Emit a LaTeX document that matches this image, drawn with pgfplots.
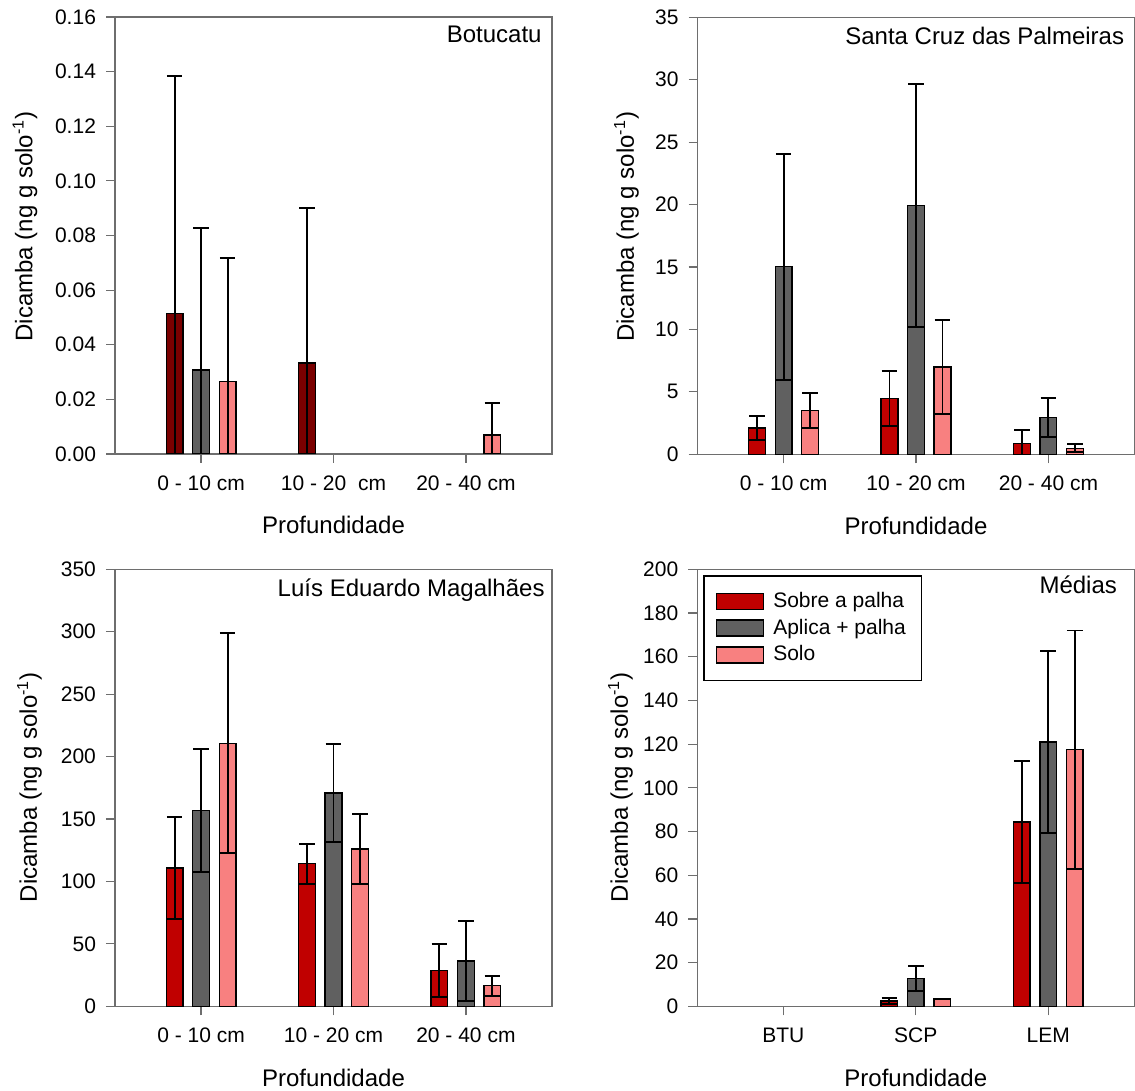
\documentclass[border=0pt]{standalone}
\usepackage{fontspec}
\setmainfont{Liberation Sans}
\usepackage{pgfplots}
\pgfplotsset{compat=1.18}
\definecolor{maroonc}{RGB}{122,0,0}
\definecolor{bred}{RGB}{192,0,0}
\definecolor{bgray}{RGB}{96,96,96}
\definecolor{bpink}{RGB}{248,128,128}
\definecolor{axgray}{RGB}{110,110,110}
\pgfplotsset{
  panel/.style={
    width=218.5pt, height=218.5pt, scale only axis,
    anchor=north west,
    xmin=-0.65, xmax=2.65, ymin=0, enlargelimits=false,
    xtick={0,1,2},
    axis line style={draw=axgray, line width=0.6pt},
    every tick/.style={draw=axgray, line width=0.6pt},
    tick align=outside, major tick length=4.5pt,
    xtick pos=bottom, ytick pos=left,
    scaled y ticks=false,
    /pgf/number format/assume math mode=true,
    tick label style={font=\fontsize{10.5}{12}\selectfont},
    xticklabel style={anchor=base, yshift=-13.5pt},
    yticklabel style={xshift=-1.5pt},
    label style={font=\fontsize{12}{14}\selectfont},
    xlabel={Profundidade},
    xlabel style={at={(axis description cs:0.5,0)}, anchor=base, yshift=-40pt},
    ylabel={Dicamba (ng g solo\textsuperscript{-1})},
    ylabel style={anchor=center},
  },
  mybar/.style={ybar, bar width=0.126, draw=black, line width=0.7pt,
    error bars/y dir=both, error bars/y explicit,
    error bars/error bar style={line width=0.95pt, black},
    error bars/error mark options={black, line width=0.95pt, mark size=3.9pt, rotate=90},
  },
  legbar/.style={legend image code/.code={\draw[##1, draw=black, line width=0.7pt] (0pt,-4pt) rectangle (23.3pt,4pt);}},
}
\begin{document}
\begin{tikzpicture}
\path[use as bounding box] (0,0) rectangle (567.5pt,-545.5pt);
% Panel 1: Botucatu
\begin{axis}[panel, at={(57.5pt,-8.5pt)},
  ymax=0.16, ytick={0,0.02,...,0.16},
  yticklabel style={/pgf/number format/.cd, fixed, fixed zerofill, precision=2},
  xticklabels={0 - 10 cm, 10 - 20~ cm, 20 - 40 cm},
  ylabel style={at={(axis description cs:-0.206,0.5206)}}]
\addplot[mybar, fill=maroonc] table[x=x,y=y,y error=e,row sep=\\] {x y e\\ -0.2 0.0514 0.087\\ 0.8 0.0333 0.0568\\};
\addplot[mybar, fill=bgray] table[x=x,y=y,y error=e,row sep=\\] {x y e\\ 0 0.0308 0.0521\\};
\addplot[mybar, fill=bpink] table[x=x,y=y,y error=e,row sep=\\] {x y e\\ 0.2 0.0266 0.045\\ 2.2 0.0070 0.0117\\};
\node[anchor=base east, inner sep=0pt, font=\fontsize{12}{14}\selectfont] at (rel axis cs:1,1) [xshift=-5pt, yshift=-13pt] {Botucatu};
\end{axis}
% Panel 2: Santa Cruz das Palmeiras
\begin{axis}[panel, at={(348.75pt,-8.65pt)},
  ymax=35, ytick={0,5,...,35},
  xticklabels={0 - 10 cm, 10 - 20 cm, 20 - 40 cm},
  ylabel style={at={(axis description cs:-0.1625,0.5206)}}]
\addplot[mybar, fill=bred] table[x=x,y=y,y error=e,row sep=\\] {x y e\\ -0.2 2.11 0.96\\ 0.8 4.48 2.22\\ 1.8 0.85 1.10\\};
\addplot[mybar, fill=bgray] table[x=x,y=y,y error=e,row sep=\\] {x y e\\ 0 15.03 9.05\\ 1 19.91 9.72\\ 2 2.96 1.58\\};
\addplot[mybar, fill=bpink] table[x=x,y=y,y error=e,row sep=\\] {x y e\\ 0.2 3.50 1.39\\ 1.2 6.99 3.77\\ 2.2 0.48 0.32\\};
\node[anchor=base east, inner sep=0pt, font=\fontsize{12}{14}\selectfont] at (rel axis cs:1,1) [xshift=-5pt, yshift=-13.5pt] {Santa Cruz das Palmeiras};
\end{axis}
% Panel 3: Luis Eduardo Magalhaes
\begin{axis}[panel, at={(57.5pt,-284.65pt)},
  ymax=350, ytick={0,50,...,350},
  xticklabels={0 - 10 cm, 10 - 20 cm, 20 - 40 cm},
  ylabel style={at={(axis description cs:-0.1957,0.5016)}}]
\addplot[mybar, fill=bred] table[x=x,y=y,y error=e,row sep=\\] {x y e\\ -0.2 110.7 40.9\\ 0.8 114.2 16.0\\ 1.8 28.6 21.4\\};
\addplot[mybar, fill=bgray] table[x=x,y=y,y error=e,row sep=\\] {x y e\\ 0 156.7 49.4\\ 1 170.9 39.3\\ 2 36.4 31.8\\};
\addplot[mybar, fill=bpink] table[x=x,y=y,y error=e,row sep=\\] {x y e\\ 0.2 210.7 88.2\\ 1.2 125.9 27.8\\ 2.2 16.6 8.0\\};
\node[anchor=base east, inner sep=0pt, font=\fontsize{12}{14}\selectfont] at (rel axis cs:1,1) [xshift=-3.5pt, yshift=-13.5pt] {Luís Eduardo Magalhães};
\end{axis}
% Panel 4: Medias
\begin{axis}[panel, at={(348.65pt,-284.65pt)},
  ymax=200, ytick={0,20,...,200},
  xticklabels={BTU, SCP, LEM},
  ylabel style={at={(axis description cs:-0.176,0.5016)}},
  legend style={at={(axis description cs:0,1)}, anchor=north west, xshift=3pt, yshift=-3pt,
    draw=black, line width=0.6pt, font=\fontsize{10.5}{12}\selectfont,
    inner xsep=6pt, inner ysep=6.5pt, row sep=0.85pt,
    nodes={inner sep=1.7pt},
    /tikz/every odd column/.append style={column sep=3pt}},
  legend cell align=left]
\addplot[mybar, legbar, fill=bred] table[x=x,y=y,y error=e,row sep=\\] {x y e\\ 0.8 2.44 1.4\\ 1.8 84.3 28.0\\};
\addlegendentry{Sobre a palha}
\addplot[mybar, legbar, fill=bgray] table[x=x,y=y,y error=e,row sep=\\] {x y e\\ 1 12.8 5.8\\ 2 121.0 41.7\\};
\addlegendentry{Aplica + palha}
\addplot[mybar, legbar, fill=bpink] table[x=x,y=y,y error=e,row sep=\\] {x y e\\ 1.2 3.5 0\\ 2.2 117.5 54.5\\};
\addlegendentry{Solo}
\node[anchor=base east, inner sep=0pt, font=\fontsize{12}{14}\selectfont] at (rel axis cs:1,1) [xshift=-8.5pt, yshift=-12pt] {Médias};
\end{axis}
\end{tikzpicture}
\end{document}
